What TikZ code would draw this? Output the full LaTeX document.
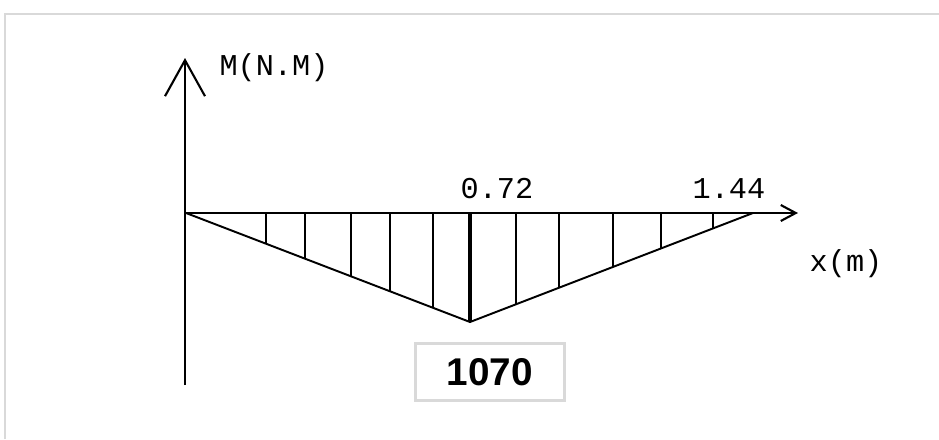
\documentclass[tikz,border=0pt]{standalone}
\usepackage{fontspec}
\setmonofont{Liberation Mono}
\setsansfont{Liberation Sans}
\usepackage{tikz}
\usetikzlibrary{arrows.meta}

\begin{document}
\begin{tikzpicture}[
    x=0.01cm, y=-0.01cm,
    axis/.style={line width=0.6pt},
    yarrow/.style={-{Straight Barb[length=3.6mm, width=4mm, line width=0.6pt]}},
    xarrow/.style={-{Straight Barb[length=1.5mm, width=1.6mm, line width=0.6pt]}},
    outline/.style={line width=0.55pt},
    hatch/.style={line width=0.5pt},
    axislabel/.style={font=\ttfamily\fontsize{8.6}{10}\selectfont, inner sep=0pt},
    valbox/.style={draw=gray!30, line width=0.6pt, minimum width=1.49cm, minimum height=0.57cm,
        font=\sffamily\bfseries\fontsize{11}{13}\selectfont}
]
    % Frame
    \useasboundingbox (0,0) rectangle (939,439);
    \draw[gray!30, line width=0.6pt] (5,439) -- (5,14) -- (939,14);

    % Coordinates
    \coordinate (origin) at (186,213);
    \coordinate (ybot) at (185,385);
    \coordinate (ytip) at (185,58);
    \coordinate (xtip) at (798,213);
    \coordinate (peak) at (470,322);
    \coordinate (rend) at (753,213);

    % Axes
    \draw[axis, yarrow] (ybot) -- (ytip);
    \draw[axis, xarrow] (origin) -- (xtip);

    % Moment diagram
    \draw[outline] (origin) -- (peak) -- (rend);
    \foreach \x in {266,305,351,390,433}
        \draw[hatch] (\x,213) -- (\x,{213+(\x-186)/284*109});
    \foreach \x in {516,559,613,661,713}
        \draw[hatch] (\x,213) -- (\x,{213+(753-\x)/283*109});
    \draw[line width=1.2pt] (470,213) -- (peak);

    % Labels
    \node[axislabel] (mlabel) at (274,68) {M(N.M)};
    \node[axislabel] (xlabel) at (846,264) {x(m)};
    \node[axislabel] (lblmid) at (497,189) {0.72};
    \node[axislabel] (lblend) at (729,189) {1.44};
    \node[valbox] (maxval) at (490,372) {1070};

\end{tikzpicture}
\end{document}
